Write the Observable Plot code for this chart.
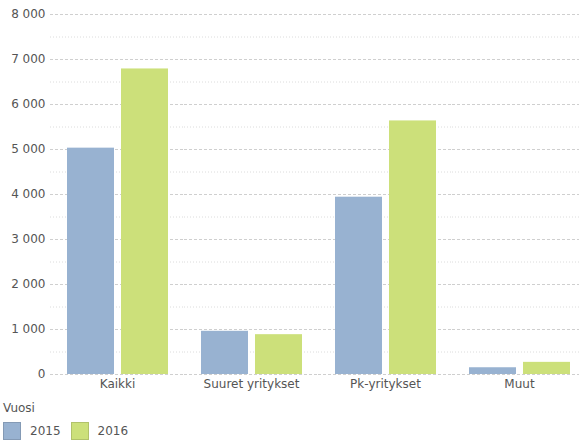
<!DOCTYPE html>
<html><head><meta charset="utf-8">
<script src="https://cdn.jsdelivr.net/npm/d3@7"></script>
<script src="https://cdn.jsdelivr.net/npm/@observablehq/plot@0.6"></script>
<style>
html,body{margin:0;background:#fff;font-family:"DejaVu Sans",Verdana,sans-serif;color:#555;overflow:hidden;width:579px;}
#chart svg{max-width:none !important;display:block;}
#legend{padding-left:3px;font-size:12px;}
.lt{height:16px;line-height:16px;margin-top:5px;}
.row{display:flex;align-items:center;margin-top:6px;}
.sw{width:18px;height:18px;box-sizing:border-box;margin-right:9px;}
.item{display:flex;align-items:center;margin-right:10px;}
</style></head>
<body>
<div id="chart"></div>
<div id="legend"></div>
<script>
const categories = ["Kaikki", "Suuret yritykset", "Pk-yritykset", "Muut"];
const years = ["2015", "2016"];
const values2015 = [5030, 960, 3940, 150];
const values2016 = [6790, 885, 5635, 270];
const yTicks = [0, 1000, 2000, 3000, 4000, 5000, 6000, 7000, 8000];
const minorTicks = [500, 1500, 2500, 3500, 4500, 5500, 6500, 7500];
const colors = ["#98b2d1", "#cce07a"];
const legendTitle = "Vuosi";

const data = [];
categories.forEach((c, i) => {
  data.push({cat: c, year: years[0], value: values2015[i]});
  data.push({cat: c, year: years[1], value: values2016[i]});
});
const fmt = d => d3.format(",")(d).replace(/,/g, " ");

const chart = Plot.plot({
  width: 586,
  height: 395,
  marginTop: 14,
  marginBottom: 21,
  marginLeft: 50,
  marginRight: 0,
  style: {fontFamily: "DejaVu Sans, Verdana, sans-serif", fontSize: "12px", color: "#555", background: "#fff", maxWidth: "none"},
  fx: {domain: categories, padding: 0, axis: "bottom", label: null, tickSize: 0, tickPadding: 5},
  x: {domain: years, paddingInner: 0.13, paddingOuter: 0.305, axis: null},
  y: {domain: [0, 8000], ticks: yTicks, tickFormat: fmt, tickSize: 0, tickPadding: 5, label: null},
  color: {domain: years, range: colors},
  marks: [
    Plot.ruleY(minorTicks, {stroke: "#dcdcdc", strokeDasharray: "1,2"}),
    Plot.ruleY(yTicks, {stroke: "#cfcfcf", strokeDasharray: "3,2"}),
    Plot.barY(data, {fx: "cat", x: "year", y: "value", fill: "year"})
  ]
});
document.getElementById("chart").appendChild(chart);

const lg = document.getElementById("legend");
lg.innerHTML = `<div class="lt">${legendTitle}</div><div class="row">` +
  years.map((y, i) => `<div class="item"><div class="sw" style="background:${colors[i]};border:1px solid ${d3.color(colors[i]).darker(0.4)}"></div>${y}</div>`).join("") +
  `</div>`;
</script>
</body></html>
